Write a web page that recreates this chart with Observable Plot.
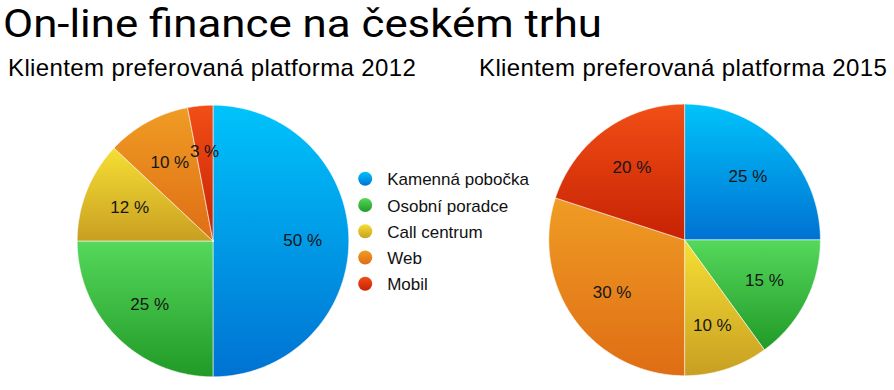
<!DOCTYPE html>
<html>
<head>
<meta charset="utf-8">
<script src="https://cdn.jsdelivr.net/npm/d3@7"></script>
<script src="https://cdn.jsdelivr.net/npm/@observablehq/plot@0.6"></script>
<style>
  body { margin: 0; background: #fff; }
  #wrap { position: relative; width: 894px; height: 390px; overflow: hidden; background: #fff; }
  #title { position: absolute; left: 3px; top: 4px; font-family: Roboto, "Open Sans", sans-serif; font-size: 38px; line-height: 40px; color: #000; white-space: nowrap; transform-origin: 0 0; }
  .sub { position: absolute; top: 56px; font-family: "Liberation Sans", Arial, sans-serif; font-size: 24px; line-height: 24px; letter-spacing: 0.38px; color: #000; white-space: nowrap; }
  #chart { position: absolute; left: 0; top: 90px; }
</style>
</head>
<body>
<div id="wrap">
  <div id="title">On-line finance na českém trhu</div>
  <div class="sub" style="left:8px">Klientem preferovaná platforma 2012</div>
  <div class="sub" style="left:479px">Klientem preferovaná platforma 2015</div>
  <div id="chart"></div>
</div>
<script>
// ---- data ----
const categories = ["Kamenná pobočka", "Osobní poradce", "Call centrum", "Web", "Mobil"];
const values2012 = [50, 25, 12, 10, 3];
const values2015 = [25, 15, 10, 30, 20];
const gradientTop = ["#00c3fb", "#55d85b", "#f6df34", "#ef9c24", "#f24e16"];
const gradientBottom = ["#0072d2", "#219a27", "#c89f22", "#df6d14", "#c62204"];

// title stretched to the reference's width
const titleEl = document.getElementById("title");
const titleW = titleEl.getBoundingClientRect().width;
titleEl.style.transform = `scaleX(${(599 / titleW).toFixed(4)})`;

// ---- layout ----
const W = 894, H = 300, TOP = 90;
const pies = [
  {year: "2012", values: values2012, cx: 212.5, cy: 240.5, r: 135.8},
  {year: "2015", values: values2015, cx: 684.1, cy: 239.4, r: 135.8}
];
const labelR = 0.66;
const gradId = (i) => `grad${i}`;

// slice polygons computed from the values with d3.pie
const slicePoints = [];
const labels = [];
for (const p of pies) {
  const arcs = d3.pie().sort(null).value(d => d)(p.values);
  arcs.forEach((a, i) => {
    const key = p.year + "-" + i;
    const fill = `url(#${gradId(i)})`;
    slicePoints.push({key, fill, x: p.cx, y: p.cy});
    const n = Math.max(2, Math.ceil((a.endAngle - a.startAngle) / 0.01));
    for (let k = 0; k <= n; k++) {
      const t = a.startAngle + (a.endAngle - a.startAngle) * k / n;
      slicePoints.push({key, fill, x: p.cx + p.r * Math.sin(t), y: p.cy - p.r * Math.cos(t)});
    }
    slicePoints.push({key, fill, x: p.cx, y: p.cy});
    const m = (a.startAngle + a.endAngle) / 2;
    labels.push({
      text: `${p.values[i]} %`,
      x: p.cx + p.r * labelR * Math.sin(m),
      y: p.cy - p.r * labelR * Math.cos(m)
    });
  });
}

const legendX = 364.7, legendY = 178.3, legendStep = 26.25;
const legend = categories.map((c, i) => ({
  name: c, fill: `url(#${gradId(i)})`, x: legendX, y: legendY + i * legendStep
}));

const defs = () => {
  const g = d3.create("svg:g");
  const d = g.append("defs");
  categories.forEach((c, i) => {
    const lg = d.append("linearGradient").attr("id", gradId(i))
      .attr("x1", 0).attr("y1", 0).attr("x2", 0).attr("y2", 1);
    lg.append("stop").attr("offset", "0%").attr("stop-color", gradientTop[i]);
    lg.append("stop").attr("offset", "100%").attr("stop-color", gradientBottom[i]);
  });
  return g.node();
};

const chart = Plot.plot({
  width: W, height: H,
  margin: 0,
  x: {domain: [0, W], range: [0, W], axis: null},
  y: {domain: [TOP, TOP + H], range: [0, H], axis: null},
  color: {type: "identity"},
  style: {background: "transparent", overflow: "visible"},
  marks: [
    defs,
    Plot.line(slicePoints, {x: "x", y: "y", z: "key", fill: "fill", stroke: "#ffffff", strokeOpacity: 0.55, strokeWidth: 1, curve: "linear-closed"}),
    Plot.text(labels, {x: "x", y: "y", text: "text", fontSize: 17, fill: "#161616", textAnchor: "middle", fontFamily: "Liberation Sans, Arial, sans-serif"}),
    Plot.dot(legend, {x: "x", y: "y", r: 7, fill: "fill", stroke: null}),
    Plot.text(legend, {x: "x", y: "y", text: "name", dx: 22, dy: 1, textAnchor: "start", fontSize: 17, fill: "#111", fontFamily: "Liberation Sans, Arial, sans-serif", style: {letterSpacing: "0.45px"}})
  ]
});
document.getElementById("chart").appendChild(chart);
</script>
</body>
</html>
